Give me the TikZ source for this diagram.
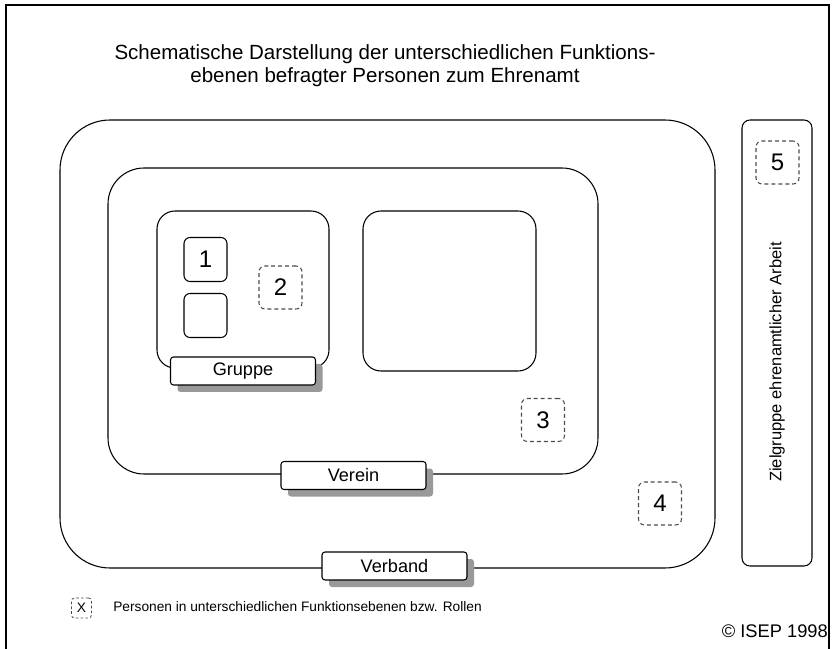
\documentclass[tikz,border=0pt]{standalone}
\usepackage{fontspec}
\setmainfont{Liberation Sans}
\usetikzlibrary{shadows}
\newlength\pxl
\setlength\pxl{0.75pt}
\tikzset{
  region/.style={draw, line width=0.8pt, inner sep=0pt, rectangle},
  seat/.style={draw, line width=0.8pt, rounded corners=6\pxl, inner sep=0pt,
    minimum width=43\pxl, minimum height=44\pxl, font=\fontsize{18}{20}\selectfont},
  person/.style={draw=black!70, line width=0.8pt, dash pattern=on 3pt off 2.2pt,
    rounded corners=6\pxl, inner sep=0pt, minimum size=43\pxl,
    font=\fontsize{18}{20}\selectfont},
  tag/.style={draw, line width=0.8pt, fill=white, rounded corners=3\pxl, inner sep=0pt,
    minimum width=145\pxl, minimum height=28\pxl, font=\fontsize{13.6}{16}\selectfont,
    drop shadow={shadow xshift=7\pxl, shadow yshift=-7\pxl, fill=black!40, opacity=1}},
}
\begin{document}
\begin{tikzpicture}[x=0.75pt, y=-0.75pt]
  \useasboundingbox (0,0) rectangle (833,649);
  % open page frame
  \draw[line width=1.6pt] (6,649) -- (6,5) -- (829,5) -- (829,649);

  % heading
  \node[align=center, font=\fontsize{15.4}{17.3}\selectfont] (title) at (385,66)
    {Schematische Darstellung der unterschiedlichen Funktions-\\ebenen befragter Personen zum Ehrenamt};

  % nested levels
  \node[region, rounded corners=50\pxl, minimum width=655\pxl, minimum height=448\pxl] (verband) at (387.5,344) {};
  \node[region, rounded corners=36\pxl, minimum width=490\pxl, minimum height=306\pxl] (verein) at (353,321) {};
  \node[region, rounded corners=18\pxl, minimum width=172\pxl, minimum height=157\pxl] (gruppe) at (243,289.5) {};
  \node[region, rounded corners=18\pxl, minimum width=173\pxl, minimum height=160\pxl] (gruppe2) at (449.5,291) {};

  % target group column
  \node[region, rounded corners=8\pxl, minimum width=70\pxl, minimum height=446\pxl] (ziel) at (777,343) {};
  \node[rotate=90, font=\fontsize{12.4}{14}\selectfont] (zieltext) at (777,362) {Zielgruppe ehrenamtlicher Arbeit};

  % persons
  \node[seat] (p1) at (205.5,259.5) {1};
  \node[seat] (p1b) at (205.5,315.5) {};
  \node[person] (p2) at (280.5,287.5) {2};
  \node[person] (p3) at (543,420) {3};
  \node[person] (p4) at (660,503.5) {4};
  \node[person] (p5) at (777.5,162.5) {5};

  % level labels
  \node[tag] (tgruppe) at (243,371) {Gruppe};
  \node[tag] (tverein) at (353.5,475.5) {Verein};
  \node[tag] (tverband) at (394.5,566) {Verband};

  % legend
  \node[person, rounded corners=3\pxl, minimum size=20\pxl, line width=0.6pt,
        dash pattern=on 2pt off 1.6pt, font=\fontsize{10.3}{12}\selectfont] (legbox) at (81.5,608) {X};
  \node[anchor=west, inner sep=0pt, font=\fontsize{10.3}{12}\selectfont] (legtext) at (113,607)
    {Personen in unterschiedlichen Funktionsebenen bzw. Rollen};

  \node[anchor=base east, inner sep=0pt, font=\fontsize{13.7}{16}\selectfont] (copy) at (828,637)
    {© ISEP 1998};
\end{tikzpicture}
\end{document}
